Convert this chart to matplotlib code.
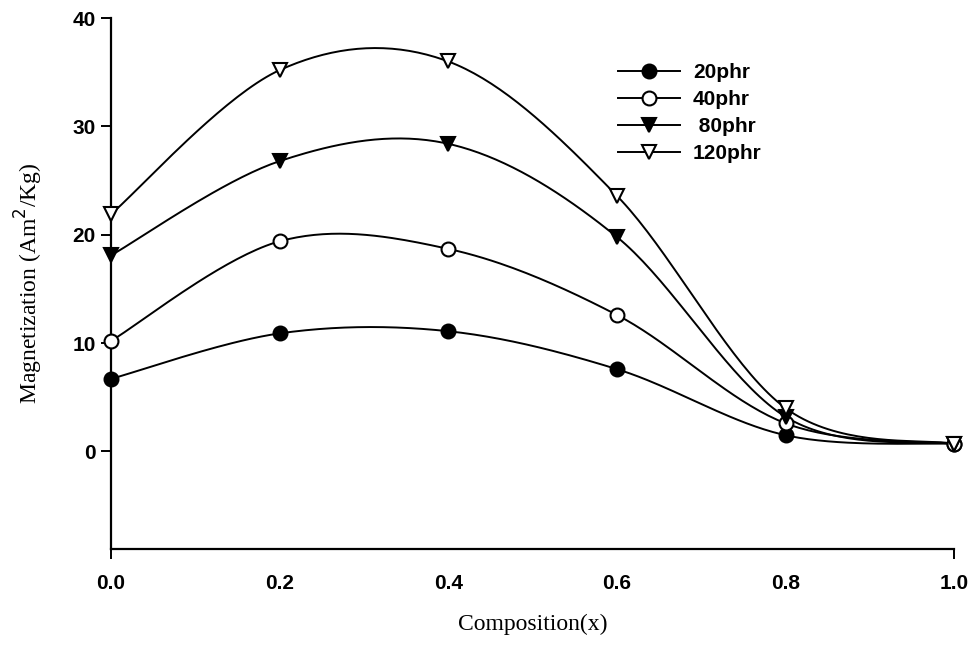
import numpy as np
import matplotlib
matplotlib.use('Agg')
import matplotlib.pyplot as plt

# values
comp = [0.0, 0.2, 0.4, 0.6, 0.8, 1.0]
m_20phr = [6.7, 10.9, 11.1, 7.6, 1.5, 0.7]
m_40phr = [10.2, 19.4, 18.7, 12.6, 2.6, 0.7]
m_80phr = [18.1, 26.8, 28.4, 19.8, 3.2, 0.7]
m_120phr = [21.9, 35.2, 36.0, 23.6, 4.0, 0.7]
labels = ['20phr', '40phr', ' 80phr', '120phr']
x_ticks = [0.0, 0.2, 0.4, 0.6, 0.8, 1.0]
y_ticks = [0, 10, 20, 30, 40]


def smooth(x, y, n=40):
    # excel style smoothed line: bezier segments with catmull-rom control points
    x = np.asarray(x, float)
    y = np.asarray(y, float)
    px, py = [], []
    k = len(x)
    for i in range(k - 1):
        i0 = max(i - 1, 0)
        i3 = min(i + 2, k - 1)
        c1x = x[i] + (x[i + 1] - x[i0]) / 6
        c1y = y[i] + (y[i + 1] - y[i0]) / 6
        c2x = x[i + 1] - (x[i3] - x[i]) / 6
        c2y = y[i + 1] - (y[i3] - y[i]) / 6
        t = np.linspace(0, 1, n)
        a = (1 - t) ** 3
        b = 3 * (1 - t) ** 2 * t
        c = 3 * (1 - t) * t ** 2
        d = t ** 3
        px.extend(a * x[i] + b * c1x + c * c2x + d * x[i + 1])
        py.extend(a * y[i] + b * c1y + c * c2y + d * y[i + 1])
    return px, py


fig = plt.figure(figsize=(9.76, 6.47), dpi=100)
ax = fig.add_axes([0.1137, 0.1515, 0.864, 0.8205])

series = [m_20phr, m_40phr, m_80phr, m_120phr]
styles = [('o', 'black'), ('o', 'white'), ('v', 'black'), ('v', 'white')]
for vals, (mk, fc), lab in zip(series, styles, labels):
    sx, sy = smooth(comp, vals)
    ax.plot(sx, sy, color='black', lw=1.4, zorder=2)
    ax.plot(comp, vals, ls='none', marker=mk, ms=10, mfc=fc, mec='black',
            mew=1.5, zorder=3, clip_on=False)
    ax.plot([], [], color='black', lw=1.4, marker=mk, ms=10, mfc=fc,
            mec='black', mew=1.5, label=lab)

ax.set_xlim(0, 1.0)
ax.set_ylim(-9, 40)
ax.set_xticks(x_ticks)
ax.set_xticklabels(['%.1f' % v for v in x_ticks])
ax.set_yticks(y_ticks)
ax.spines['top'].set_visible(False)
ax.spines['right'].set_visible(False)
ax.spines['left'].set_linewidth(1.6)
ax.spines['bottom'].set_linewidth(1.6)
ax.tick_params(axis='both', direction='out', length=7, width=1.4,
               labelsize=15, pad=11)
ax.tick_params(axis='y', pad=4)
for i, t in enumerate(ax.xaxis.get_major_ticks()):
    if 0 < i < len(x_ticks) - 1:
        t.tick1line.set_visible(False)
for lb in ax.get_xticklabels() + ax.get_yticklabels():
    lb.set_fontfamily('Liberation Sans')
    lb.set_fontweight('bold')

ax.set_xlabel('Composition(x)', family='Liberation Serif', fontsize=17,
              labelpad=15)
ax.set_ylabel('Magnetization (Am$^2$/Kg)', family='Liberation Serif',
              fontsize=17, labelpad=20)

leg = ax.legend(loc='upper left', bbox_to_anchor=(0.601, 0.915), frameon=False,
                handlelength=3.0, handletextpad=0.6, labelspacing=0.38,
                borderpad=0, borderaxespad=0,
                prop={'family': 'Liberation Sans', 'weight': 'bold', 'size': 15})

fig.savefig('out.png', dpi=100)
